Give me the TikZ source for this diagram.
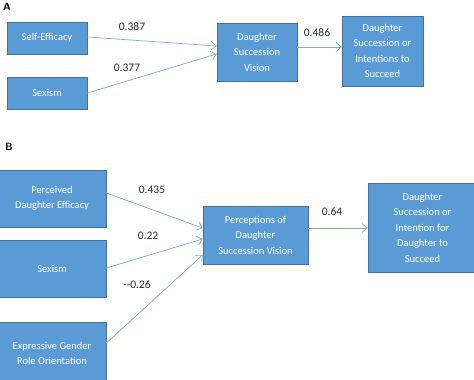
\documentclass[tikz,border=0pt]{standalone}
\usepackage{fontspec}
\setmainfont{Carlito}
\usetikzlibrary{arrows.meta}
\definecolor{boxfill}{HTML}{5B9BD5}
\definecolor{boxline}{HTML}{41719C}
\definecolor{arrowc}{HTML}{7FA9D8}
\tikzset{
  box/.style={draw=boxline, line width=0.8pt, fill=boxfill, text=white, align=center,
    font=\fontsize{10.5}{15.5}\selectfont, inner sep=2pt},
  link/.style={draw=arrowc, line width=0.7pt, -{Straight Barb[length=5pt,width=9pt]}},
  coef/.style={font=\fontsize{11.5}{13}\selectfont, text=black!85, inner sep=0pt},
  panel/.style={font=\sffamily\bfseries\fontsize{10.5}{11}\selectfont, inner sep=0pt}
}
\begin{document}
\begin{tikzpicture}[x=1pt,y=-1pt]
\clip (0,0) rectangle (474,380);
\fill[white] (0,0) rectangle (474,380);
% Panel A
\node[panel] (pa) at (7,7) {A};
\node[box, minimum width=80pt, minimum height=32pt] (se) at (47,38) {Self-Efficacy};
\node[box, minimum width=80pt, minimum height=32pt] (sx) at (47,93) {Sexism};
\node[box, minimum width=80pt, minimum height=58pt] (dsv) at (257,52) {Daughter\\Succession\\Vision};
\node[box, minimum width=81pt, minimum height=70pt] (dsi) at (382.5,51) {Daughter\\Succession or\\Intentions to\\Succeed};
\coordinate (a1) at (217,46);
\coordinate (a2) at (217,54);
\draw[link] (se.east |- 0,37) -- (dsv.west |- a1);
\draw[link] (sx.east |- 0,93) -- (dsv.west |- a2);
\draw[link] (dsv.east |- 0,47) -- (dsi.west |- 0,47);
\node[coef] (c1) at (132,27) {0.387};
\node[coef] (c2) at (127,68) {0.377};
\node[coef] (c3) at (317,33) {0.486};
% Panel B
\node[panel] (pb) at (9,147) {B};
\node[box, minimum width=108pt, minimum height=57pt] (pde) at (52,198.5) {Perceived\\Daughter Efficacy};
\node[box, minimum width=108pt, minimum height=57pt] (sxb) at (52,268.5) {Sexism};
\node[box, minimum width=108pt, minimum height=63pt] (egr) at (52,353.5) {Expressive Gender\\Role Orientation};
\node[box, minimum width=105pt, minimum height=58pt] (pdsv) at (255.5,235) {Perceptions of\\Daughter\\Succession Vision};
\node[box, minimum width=109pt, minimum height=89pt] (dsib) at (422.5,227.5) {Daughter\\Succession or\\Intention for\\Daughter to\\Succeed};
\draw[link] (pde.east |- 0,193) -- (pdsv.west |- 0,228);
\draw[link] (sxb.east |- 0,268) -- (pdsv.west |- 0,239);
\draw[link] (egr.east |- 0,343) -- (pdsv.west |- 0,255);
\draw[link] (pdsv.east |- 0,228) -- (dsib.west |- 0,228);
\node[coef] (c4) at (152,190) {0.435};
\node[coef] (c5) at (148,236) {0.22};
\node[coef] (c6) at (137,285) {-{}-0.26};
\node[coef] (c7) at (332,212) {0.64};
\end{tikzpicture}
\end{document}
